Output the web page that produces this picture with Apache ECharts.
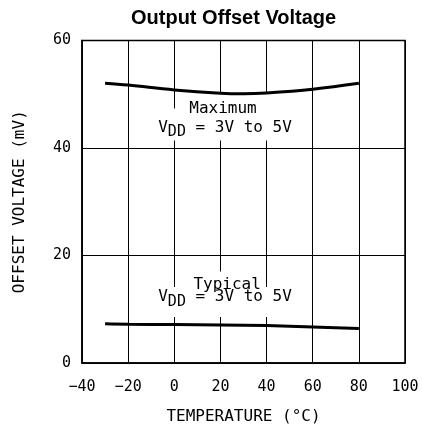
<!DOCTYPE html>
<html>
<head>
<meta charset="utf-8">
<script src="https://cdn.jsdelivr.net/npm/echarts@6/dist/echarts.min.js"></script>
<style>
  html, body { margin: 0; padding: 0; background: #fff; }
  #chart { width: 422px; height: 430px; }
</style>
</head>
<body>
<div id="chart"></div>
<script>
// Temperature (°C) / offset voltage (mV) samples for each curve
const maxTemps = [-30, -20, 0, 20, 30, 40, 60, 80];
const maxOffset = [52.05, 51.7, 50.8, 50.2, 50.1, 50.25, 50.95, 52.05];
const typTemps = [-30, -20, 0, 20, 40, 60, 80];
const typOffset = [7.28, 7.2, 7.15, 7.09, 6.96, 6.72, 6.4];

const xTicks = [-40, -20, 0, 20, 40, 60, 80, 100];
const yTicks = [0, 20, 40, 60];

// Curve annotations: [temperature, offset] anchor of each text line
const annotationText = ['Maximum', 'V{sub|DD} = 3V to 5V', 'Typical', 'V{sub|DD} = 3V to 5V'];
const annotationAt = [[21.1, 47.3], [22.0, 43.8], [22.9, 14.6], [22.0, 12.3]];

const MONO = '"DejaVu Sans Mono", monospace';

// White knock-out box behind each text line: [left, top, right, bottom] offsets in px
const knockout = [
  [-40, -16, 46, 10],
  [-67, -19, 67, 13],
  [-32, -13, 32, 8],
  [-67, -10, 67, 20]
];

const chart = echarts.init(document.getElementById('chart'), null, { renderer: 'canvas' });

const pairs = (xs, ys) => xs.map((x, i) => [x, ys[i]]);

chart.setOption({
  animation: false,
  backgroundColor: '#fff',
  title: {
    text: 'Output Offset Voltage',
    left: 131,
    top: 8,
    padding: 0,
    textStyle: { fontFamily: '"Liberation Sans", Arial, sans-serif', fontWeight: 'bold', fontSize: 20, color: '#000' }
  },
  grid: {
    left: 82, right: 17, top: 40.5, bottom: 66.5,
    show: true, borderColor: '#000', borderWidth: 1.5, backgroundColor: 'transparent'
  },
  xAxis: {
    type: 'value',
    min: xTicks[0], max: xTicks[xTicks.length - 1], interval: 20,
    name: 'TEMPERATURE (°C)',
    nameLocation: 'middle', nameGap: 46,
    nameTextStyle: { fontFamily: MONO, fontSize: 16, color: '#000' },
    axisLine: { show: true, onZero: false, lineStyle: { color: '#000', width: 1.5 } },
    axisTick: { show: false },
    splitLine: { show: true, lineStyle: { color: '#000', width: 1 } },
    axisLabel: {
      margin: 17, fontFamily: MONO, fontSize: 15, color: '#000',
      formatter: v => (v < 0 ? '\u2212' + Math.abs(v) : String(v))
    }
  },
  yAxis: {
    type: 'value',
    min: yTicks[0], max: yTicks[yTicks.length - 1], interval: 20,
    name: 'OFFSET VOLTAGE (mV)',
    nameLocation: 'middle', nameGap: 54,
    nameTextStyle: { fontFamily: MONO, fontSize: 16, color: '#000' },
    axisLine: { show: true, onZero: false, lineStyle: { color: '#000', width: 1.5 } },
    axisTick: { show: false },
    splitLine: { show: true, lineStyle: { color: '#000', width: 1 } },
    axisLabel: { margin: 11, fontFamily: MONO, fontSize: 15, color: '#000' }
  },
  series: [
    {
      name: 'Maximum', type: 'line', smooth: 0.4, symbol: 'none', z: 5,
      lineStyle: { color: '#000', width: 3 },
      data: pairs(maxTemps, maxOffset)
    },
    {
      name: 'Typical', type: 'line', smooth: 0.4, symbol: 'none', z: 5,
      lineStyle: { color: '#000', width: 3 },
      data: pairs(typTemps, typOffset)
    }
  ]
});

// Knock-out boxes go first, text on top; all of it stays beneath the curves
const boxes = [];
const texts = [];
annotationText.forEach((label, i) => {
  const p = chart.convertToPixel({ gridIndex: 0 }, annotationAt[i]);
  const k = knockout[i];
  boxes.push({
    type: 'rect',
    z: 3, z2: 1,
    shape: { x: p[0] + k[0], y: p[1] + k[1], width: k[2] - k[0], height: k[3] - k[1] },
    style: { fill: '#ffffff', stroke: null },
    silent: true
  });
  texts.push({
    type: 'text',
    x: p[0], y: p[1],
    z: 3, z2: 5,
    style: {
      text: label,
      align: 'center',
      verticalAlign: 'middle',
      fontFamily: MONO,
      fontSize: 16,
      fill: '#000',
      rich: {
        sub: { fontFamily: MONO, fontSize: 15, fill: '#000', padding: [10, 0, 0, 0] }
      }
    },
    silent: true
  });
});

chart.setOption({ graphic: { elements: boxes.concat(texts) } });
</script>
</body>
</html>
